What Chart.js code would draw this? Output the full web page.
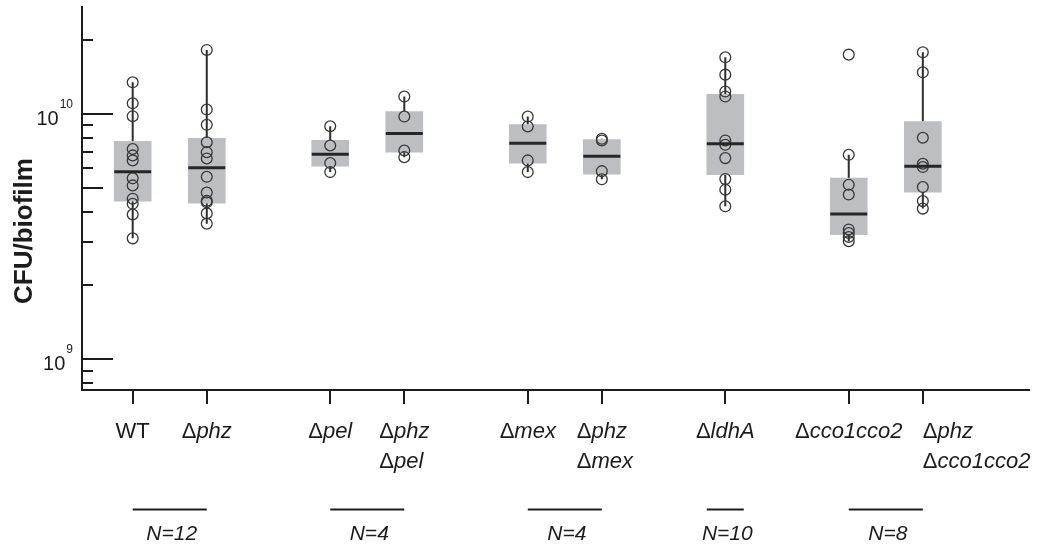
<!DOCTYPE html>
<html>
<head>
<meta charset="utf-8">
<script src="https://cdn.jsdelivr.net/npm/chart.js@4.4.1/dist/chart.umd.min.js"></script>
<style>
  html, body { margin: 0; padding: 0; background: #fff; }
  #wrap { width: 1044px; height: 546px; }
</style>
</head>
<body>
<div id="wrap"><canvas id="chart" width="1044" height="546"></canvas></div>
<script>
// Strains (label lines), x positions along the axis
const labelLines = [
    ['WT'], ['Δphz'], ['Δpel'], ['Δphz', 'Δpel'], ['Δmex'],
    ['Δphz', 'Δmex'], ['ΔldhA'], ['Δcco1cco2'], ['Δphz', 'Δcco1cco2']
];
const positions = [0, 3, 8, 11, 16, 19, 24, 29, 32];

// CFU per biofilm, individual replicates
const points = [
    [13.44e9, 11.04e9, 9.78e9, 7.19e9, 6.77e9, 6.46e9, 5.46e9, 5.11e9, 4.51e9, 4.30e9, 3.89e9, 3.11e9],
    [18.20e9, 10.41e9, 9.02e9, 7.66e9, 6.98e9, 6.58e9, 5.54e9, 4.78e9, 4.42e9, 4.36e9, 3.93e9, 3.57e9],
    [8.90e9, 7.43e9, 6.30e9, 5.79e9],
    [11.76e9, 9.75e9, 7.09e9, 6.66e9],
    [9.75e9, 8.88e9, 6.46e9, 5.79e9],
    [7.91e9, 7.79e9, 5.84e9, 5.41e9],
    [16.99e9, 14.44e9, 12.32e9, 11.76e9, 7.79e9, 7.48e9, 6.60e9, 5.42e9, 4.91e9, 4.20e9],
    [17.42e9, 6.81e9, 5.14e9, 4.69e9, 3.38e9, 3.27e9, 3.15e9, 3.03e9],
    [17.80e9, 14.76e9, 7.99e9, 6.26e9, 6.07e9, 5.03e9, 4.41e9, 4.11e9]
];

// box statistics
const q1 = [4.41e9, 4.33e9, 6.12e9, 6.98e9, 6.30e9, 5.68e9, 5.65e9, 3.22e9, 4.80e9];
const q3 = [7.72e9, 7.94e9, 7.79e9, 10.22e9, 9.05e9, 7.86e9, 12.01e9, 5.47e9, 9.30e9];
const medians = [5.81e9, 6.03e9, 6.85e9, 8.32e9, 7.59e9, 6.71e9, 7.55e9, 3.91e9, 6.12e9];
const whiskerLow = [3.11e9, 3.57e9, 5.79e9, 6.66e9, 5.79e9, 5.41e9, 4.20e9, 3.03e9, 4.11e9];
const whiskerHigh = [13.44e9, 18.20e9, 8.90e9, 11.76e9, 9.75e9, 7.91e9, 16.99e9, 6.81e9, 17.80e9];

// groups with sample size
const groupSpans = [[0, 1], [2, 3], [4, 5], [6, 6], [7, 8]];
const groupN = ['N=12', 'N=4', 'N=4', 'N=10', 'N=8'];

// y axis ticks
const yTicks = [8e8, 9e8, 1e9, 2e9, 3e9, 4e9, 5e9, 6e9, 7e9, 8e9, 9e9, 1e10, 2e10];
const yLabelled = [[1e10, '10', '10'], [1e9, '10', '9']];

const BOX_W = 37;
const INK = '#1c1c1c';
const FONT = '"Liberation Sans", Arial, Helvetica, sans-serif';
const LABEL_PX = 22;

function drawStrain(ctx, text, x, y) {
    // Δ upright, gene name italic
    let x0 = x;
    if (text.startsWith('Δ')) {
        ctx.font = LABEL_PX + 'px ' + FONT;
        ctx.fillText('Δ', x0, y);
        x0 += ctx.measureText('Δ').width;
        ctx.font = 'italic ' + LABEL_PX + 'px ' + FONT;
        ctx.fillText(text.slice(1), x0, y);
    } else {
        ctx.font = LABEL_PX + 'px ' + FONT;
        ctx.fillText(text, x0, y);
    }
}

function strainWidth(ctx, text) {
    if (text.startsWith('Δ')) {
        ctx.font = LABEL_PX + 'px ' + FONT;
        const w = ctx.measureText('Δ').width;
        ctx.font = 'italic ' + LABEL_PX + 'px ' + FONT;
        return w + ctx.measureText(text.slice(1)).width;
    }
    ctx.font = LABEL_PX + 'px ' + FONT;
    return ctx.measureText(text).width;
}

const boxPlugin = {
    id: 'boxPlugin',
    beforeDatasetsDraw(chart) {
        const ctx = chart.ctx, x = chart.scales.x, y = chart.scales.y;
        ctx.save();
        ctx.strokeStyle = '#2e2e2e';
        ctx.lineWidth = 2;
        positions.forEach((p, i) => {
            const px = x.getPixelForValue(p);
            ctx.beginPath();
            ctx.moveTo(px, y.getPixelForValue(q3[i]));
            ctx.lineTo(px, y.getPixelForValue(whiskerHigh[i]));
            ctx.moveTo(px, y.getPixelForValue(q1[i]));
            ctx.lineTo(px, y.getPixelForValue(whiskerLow[i]));
            ctx.stroke();
        });
        ctx.restore();
    },
    afterDatasetsDraw(chart) {
        const ctx = chart.ctx, x = chart.scales.x, y = chart.scales.y;
        ctx.save();
        ctx.strokeStyle = '#262626';
        ctx.lineWidth = 3;
        positions.forEach((p, i) => {
            const px = x.getPixelForValue(p);
            const py = y.getPixelForValue(medians[i]);
            ctx.beginPath();
            ctx.moveTo(px - BOX_W / 2, py);
            ctx.lineTo(px + BOX_W / 2, py);
            ctx.stroke();
        });
        ctx.restore();
    },
    afterDraw(chart) {
        const ctx = chart.ctx, x = chart.scales.x, y = chart.scales.y;
        const left = chart.chartArea.left, bottom = chart.chartArea.bottom;
        ctx.save();
        ctx.strokeStyle = INK;
        ctx.fillStyle = INK;
        ctx.lineWidth = 2;

        // y ticks, drawn inward
        yTicks.forEach(v => {
            const py = Math.round(y.getPixelForValue(v));
            const exp = Math.log10(v);
            let len = 11;
            if (Math.abs(exp - Math.round(exp)) < 1e-9) len = 31;
            else if (v === 5e9) len = 21;
            ctx.beginPath();
            ctx.moveTo(left, py);
            ctx.lineTo(left + len, py);
            ctx.stroke();
        });

        // y tick labels 10^n
        ctx.textBaseline = 'alphabetic';
        yLabelled.forEach(([v, base, sup]) => {
            const py = y.getPixelForValue(v);
            ctx.font = '12px ' + FONT;
            const sw = ctx.measureText(sup).width;
            ctx.textAlign = 'left';
            const right = 73;
            ctx.fillText(sup, right - sw, py - 6);
            ctx.font = '20px ' + FONT;
            ctx.textAlign = 'right';
            ctx.fillText(base, right - sw - 1, py + 11);
        });

        // x ticks, downward
        positions.forEach(p => {
            const px = Math.round(x.getPixelForValue(p));
            ctx.beginPath();
            ctx.moveTo(px, bottom);
            ctx.lineTo(px, bottom + 14);
            ctx.stroke();
        });

        // strain labels
        ctx.textAlign = 'left';
        positions.forEach((p, i) => {
            const px = x.getPixelForValue(p);
            const lines = labelLines[i];
            const last = i === positions.length - 1;
            const w0 = strainWidth(ctx, lines[0]);
            const start = last ? px : px - w0 / 2;
            lines.forEach((t, k) => drawStrain(ctx, t, start, 438 + k * 30));
        });

        // group bars with N
        groupSpans.forEach(([a, b], g) => {
            let x1 = x.getPixelForValue(positions[a]);
            let x2 = x.getPixelForValue(positions[b]);
            if (a === b) { x1 -= BOX_W / 2; x2 += BOX_W / 2; }
            ctx.beginPath();
            ctx.moveTo(x1, 509.5);
            ctx.lineTo(x2, 509.5);
            ctx.stroke();
            ctx.font = 'italic 21px ' + FONT;
            ctx.textAlign = 'center';
            ctx.fillText(groupN[g], (x1 + x2) / 2 + 2, 540);
        });

        // y title
        ctx.save();
        ctx.translate(32, 231);
        ctx.rotate(-Math.PI / 2);
        ctx.font = 'bold 26px ' + FONT;
        ctx.textAlign = 'center';
        ctx.textBaseline = 'alphabetic';
        ctx.fillText('CFU/biofilm', 0, 0);
        ctx.restore();

        ctx.restore();
    }
};

const scatterData = [];
points.forEach((vals, i) => vals.forEach(v => scatterData.push({ x: positions[i], y: v })));

new Chart(document.getElementById('chart'), {
    type: 'bar',
    data: {
        datasets: [
            {
                type: 'scatter',
                data: scatterData,
                pointStyle: 'circle',
                pointRadius: 5.4,
                backgroundColor: 'rgba(0,0,0,0)',
                borderColor: '#383838',
                borderWidth: 1.3,
                order: 1
            },
            {
                type: 'bar',
                data: positions.map((p, i) => ({ x: p, y: [q1[i], q3[i]] })),
                backgroundColor: '#bdbec2',
                barThickness: BOX_W,
                grouped: false,
                order: 2
            }
        ]
    },
    options: {
        responsive: false,
        animation: false,
        devicePixelRatio: 1,
        layout: { padding: { left: 82, right: 15, top: 6, bottom: 156 } },
        plugins: { legend: { display: false }, tooltip: { enabled: false } },
        scales: {
            x: {
                type: 'linear',
                offset: false,
                min: -2.053,
                max: 36.3,
                grid: { display: false, offset: false },
                ticks: { display: false },
                border: { display: true, color: INK, width: 2 },
                afterFit(s) { s.height = 0; }
            },
            y: {
                type: 'logarithmic',
                min: 7.5e8,
                max: 2.731e10,
                grid: { display: false },
                ticks: { display: false },
                border: { display: true, color: INK, width: 2 },
                afterFit(s) { s.width = 0; }
            }
        }
    },
    plugins: [boxPlugin]
});
</script>
</body>
</html>
